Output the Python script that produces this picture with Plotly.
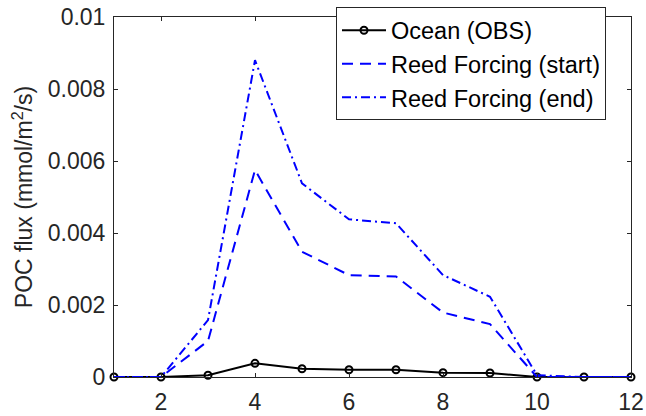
import plotly.graph_objects as go

months = [1, 2, 3, 4, 5, 6, 7, 8, 9, 10, 11, 12]
ocean_obs = [0, 0, 0.00005, 0.00038, 0.00023, 0.0002, 0.0002, 0.00012, 0.00011, 0, 0, 0]
reed_start = [0, 0, 0.00100, 0.00575, 0.00348, 0.00283, 0.00279, 0.00179, 0.00147, 0, 0, 0]
reed_end = [0, 0, 0.00158, 0.00880, 0.00538, 0.00438, 0.00427, 0.00283, 0.00223, 0.00005, 0, 0]

x_ticks = [2, 4, 6, 8, 10, 12]
y_ticks = [0, 0.002, 0.004, 0.006, 0.008, 0.01]
y_ticklabels = ["0", "0.002", "0.004", "0.006", "0.008", "0.01"]

FONT = "Liberation Sans, Arial, Helvetica, sans-serif"
AX = "#262626"
FS = 23

fig = go.Figure()
fig.add_trace(go.Scatter(
    x=months, y=ocean_obs, name="Ocean (OBS)", mode="lines+markers",
    line=dict(color="black", width=2),
    marker=dict(symbol="circle-open", size=7, color="black", line=dict(width=2)),
    cliponaxis=False,
))
fig.add_trace(go.Scatter(
    x=months, y=reed_start, name="Reed Forcing (start)", mode="lines",
    line=dict(color="#0000FF", width=2, dash="11px,7px"),
    cliponaxis=False,
))
fig.add_trace(go.Scatter(
    x=months, y=reed_end, name="Reed Forcing (end)", mode="lines",
    line=dict(color="#0000FF", width=2, dash="9px,4px,2px,4px"),
    cliponaxis=False,
))

axis_common = dict(
    showgrid=False, zeroline=False, showline=True, linecolor=AX, linewidth=1,
    mirror="ticks", ticks="inside", ticklen=4, tickwidth=1, tickcolor=AX,
    tickfont=dict(family=FONT, size=FS, color=AX), automargin=False,
)
fig.update_xaxes(range=[1, 12], tickvals=x_ticks, ticktext=[str(t) for t in x_ticks],
                 ticklabelstandoff=4, **axis_common)
fig.update_yaxes(range=[0, 0.01], tickvals=y_ticks, ticktext=y_ticklabels, ticklabelstandoff=3,
                 title=dict(text="POC flux (mmol/m<sup>2</sup>/s)", font=dict(family=FONT, size=FS, color=AX), standoff=8),
                 **axis_common)

fig.update_layout(
    template="none",
    width=646, height=416,
    margin=dict(l=114, r=15, t=17, b=39, autoexpand=False),
    plot_bgcolor="white", paper_bgcolor="white",
    showlegend=True,
    legend=dict(x=0.4294, y=1.0264, xanchor="left", yanchor="top",
                bgcolor="white", bordercolor=AX, borderwidth=1,
                font=dict(family=FONT, size=23.5, color="black"),
                tracegroupgap=0, itemwidth=44),
)

fig.write_html(
    "out.html",
    config={"displayModeBar": False},
    post_script="document.body.style.margin='0';document.body.style.overflow='hidden';",
)
